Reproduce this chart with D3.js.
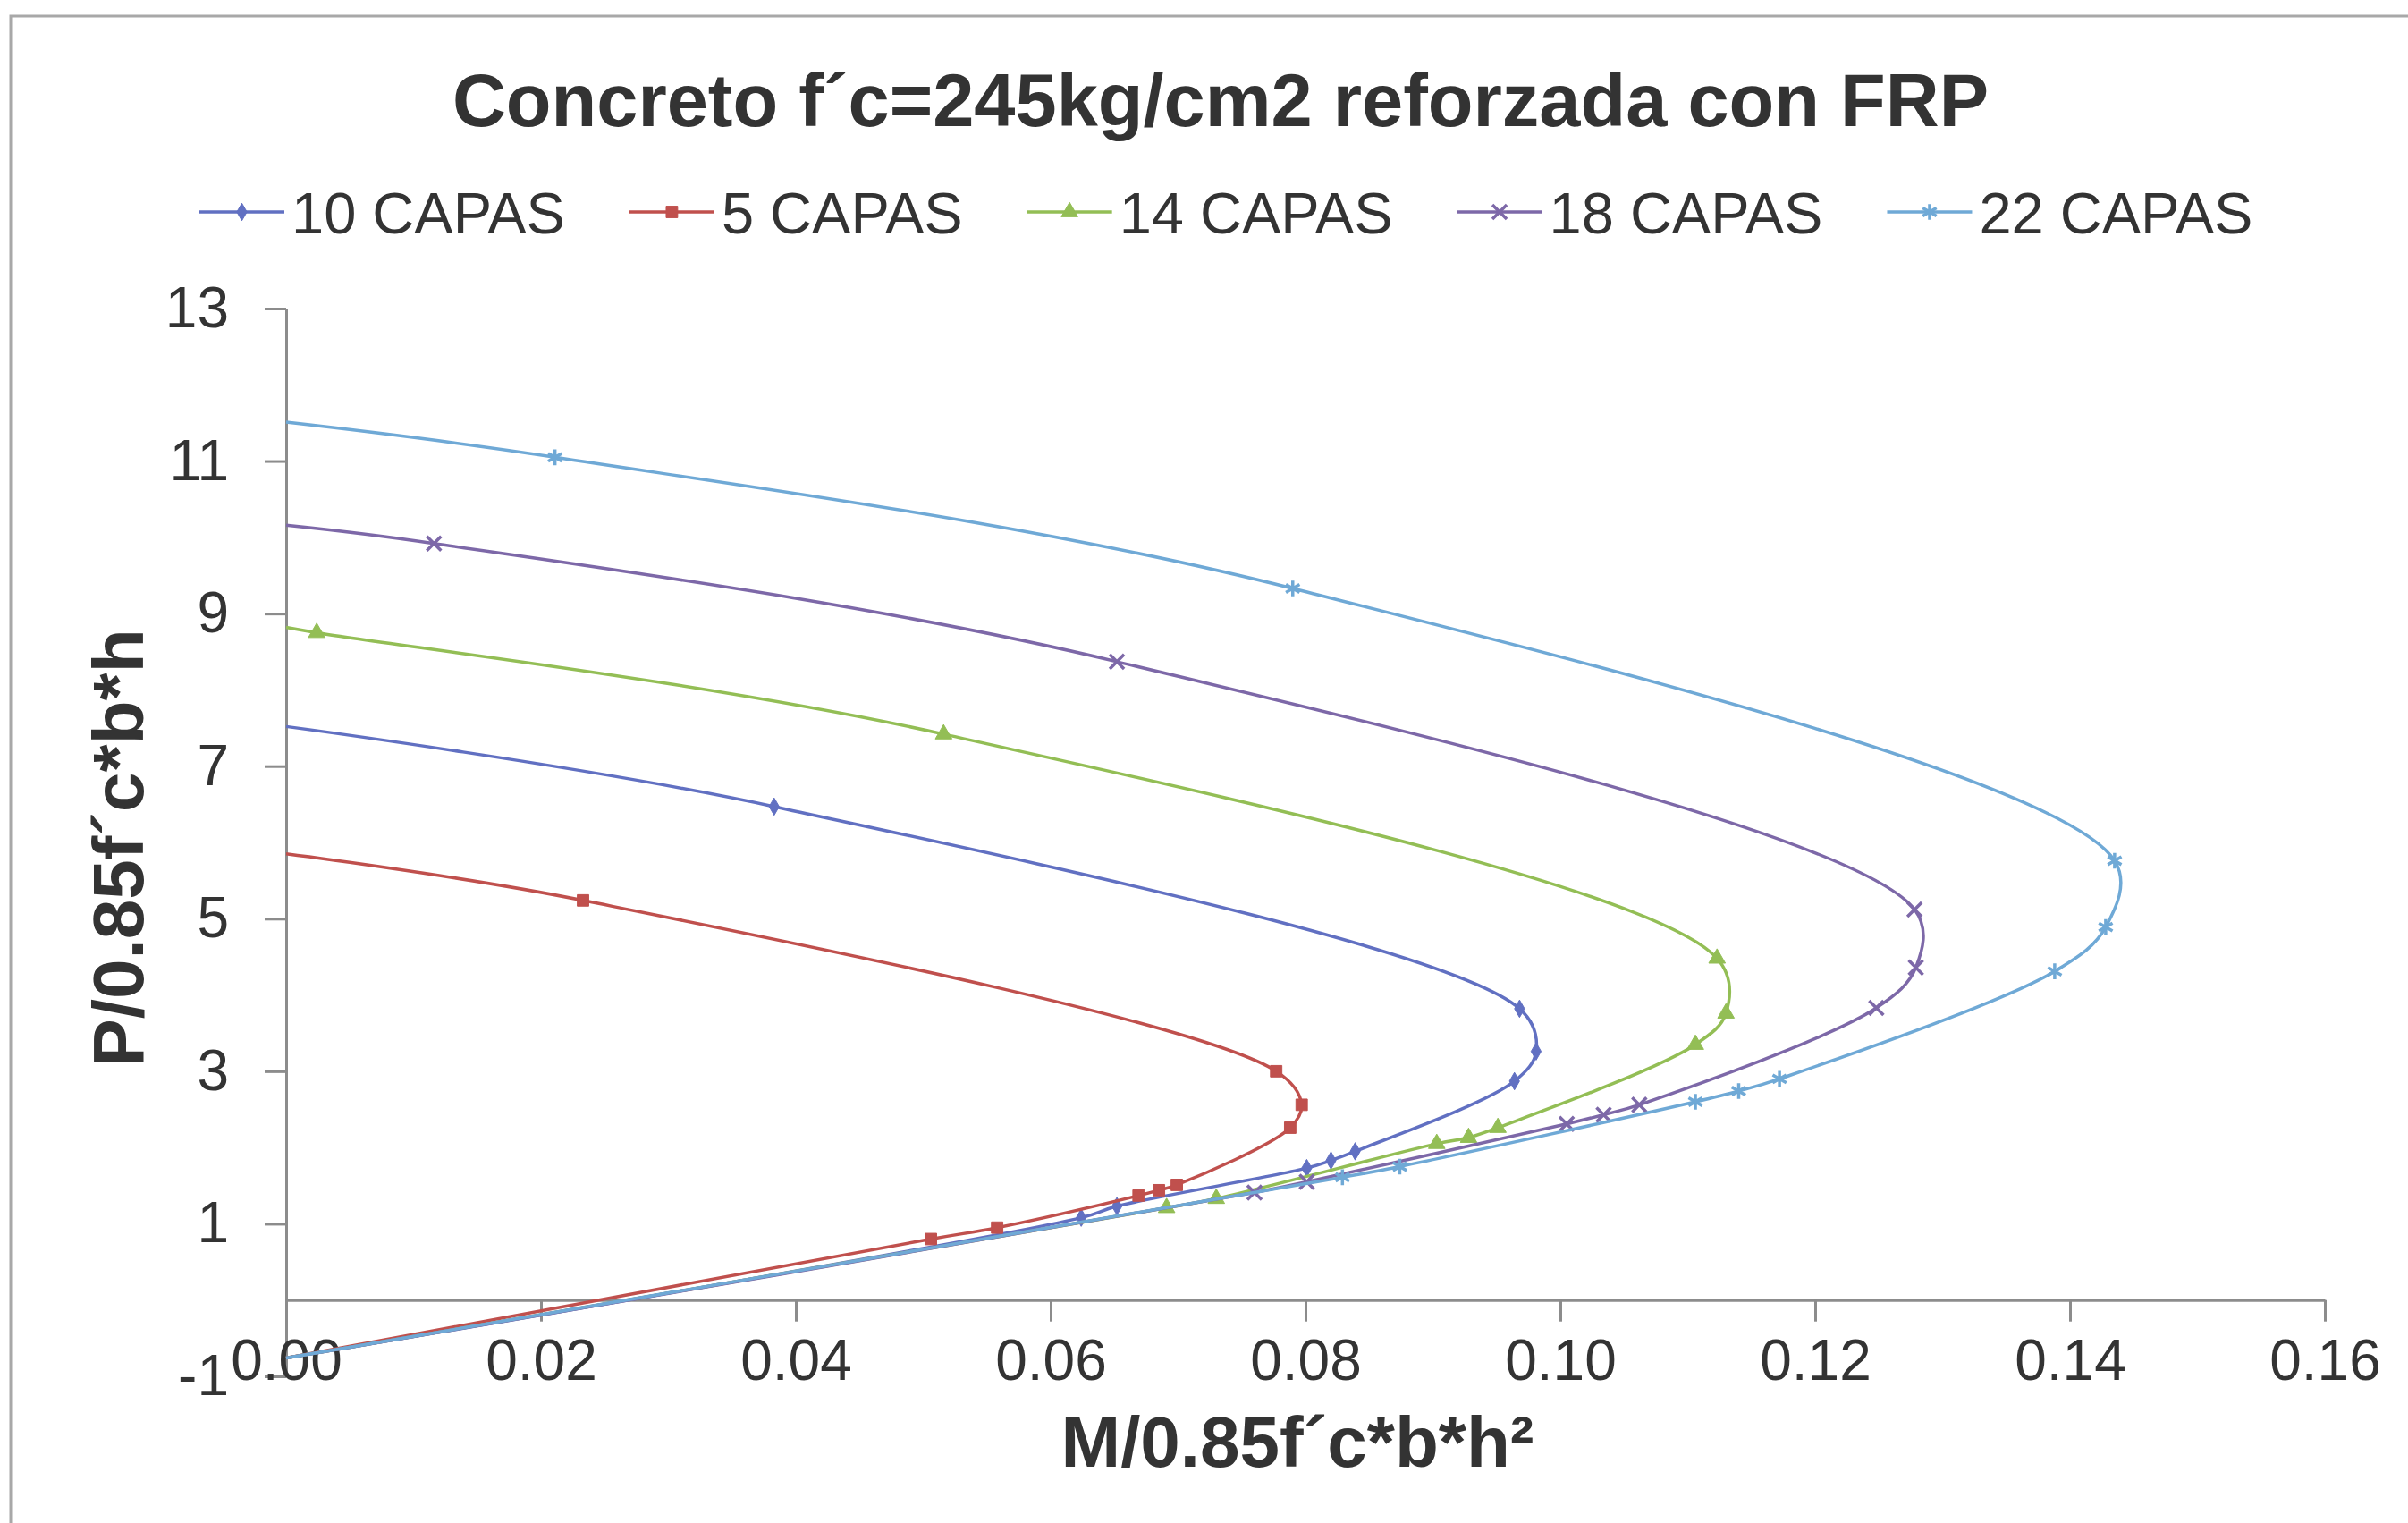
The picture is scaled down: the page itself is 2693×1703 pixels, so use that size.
<!DOCTYPE html>
<meta charset="utf-8">

<head>
    <title>Concreto f´c=245kg/cm2 reforzada con FRP</title>
</head>

<style>
    body {
        margin: 0;
        background: #ffffff;
    }

    text {
        font-family: 'Liberation Sans', Arial, sans-serif;
        fill: #333333;
    }

    .title {
        font-size: 83px;
        font-weight: bold;
        text-anchor: middle;
    }

    .legend_text {
        font-size: 65px;
    }

    .axis text {
        font-size: 64px;
        fill: #333333;
    }

    .axis path,
    .axis line {
        stroke: #8c8c8c;
        stroke-width: 3;
    }

    .label {
        font-size: 80px;
        font-weight: bold;
        text-anchor: middle;
    }

    .serie {
        fill: none;
        stroke-width: 3.5;
    }
</style>

<body>
    <svg id="chart" width="2693" height="1703"></svg>

    <script src="https://d3js.org/d3.v7.min.js"></script>
    <script>
        // values: [M/0.85f'c*b*h^2, P/0.85f'c*b*h]
        const capas10 = [[0, 7.52], [0.0383, 6.47], [0.0968, 3.82], [0.0981, 3.26], [0.0964, 2.87],
            [0.0839, 1.95], [0.0820, 1.83], [0.0801, 1.73], [0.0652, 1.23], [0.0624, 1.08], [0, -0.76]];
        const capas5 = [[0, 5.85], [0.0233, 5.24], [0.0777, 3.00], [0.0797, 2.56], [0.0788, 2.26],
            [0.0699, 1.51], [0.0685, 1.44], [0.0669, 1.37], [0.0558, 0.95], [0.0506, 0.80], [0, -0.76]];
        const capas14 = [[0, 8.82], [0.0024, 8.75], [0.0516, 7.42], [0.1123, 4.48], [0.1130, 3.76], [0.1106, 3.35],
            [0.0951, 2.26], [0.0928, 2.13], [0.0903, 2.05], [0.0730, 1.33], [0.0691, 1.21], [0, -0.76]];
        const capas18 = [[0, 10.16], [0.0116, 9.92], [0.0652, 8.37], [0.1278, 5.12], [0.1279, 4.36], [0.1248, 3.83],
            [0.1062, 2.56], [0.1034, 2.43], [0.1005, 2.31], [0.0801, 1.55], [0.0760, 1.41], [0, -0.76]];
        const capas22 = [[0, 11.51], [0.0211, 11.05], [0.0790, 9.33], [0.1435, 5.76], [0.1428, 4.89], [0.1388, 4.31],
            [0.1172, 2.90], [0.1140, 2.74], [0.1106, 2.60], [0.0874, 1.75], [0.0829, 1.61], [0, -0.76]];

        const seriesNames = ["10 CAPAS", "5 CAPAS", "14 CAPAS", "18 CAPAS", "22 CAPAS"];
        const seriesData = [capas10, capas5, capas14, capas18, capas22];

        const xTicks = [0, 0.02, 0.04, 0.06, 0.08, 0.10, 0.12, 0.14, 0.16];
        const yTicks = [-1, 1, 3, 5, 7, 9, 11, 13];

        const colors = ["#6170c2", "#c0504d", "#93be55", "#7d68a8", "#6fa9d6"];
        const symbols = [
            { type: d3.symbolDiamond, size: 110, filled: true },
            { type: d3.symbolSquare, size: 165, filled: true },
            { type: d3.symbolTriangle, size: 150, filled: true },
            { type: d3.symbolTimes, size: 170, filled: false },
            { type: d3.symbolAsterisk, size: 220, filled: false }
        ];

        const chart = d3.select("#chart");

        // frame of the chart area
        chart.append("path")
            .attr("d", "M12,1703 L12,18 L2693,18")
            .style("fill", "none")
            .style("stroke", "#a8a8a8")
            .style("stroke-width", 3);

        const xScale = d3.scaleLinear().domain([0, 0.16]).range([320, 2600]);
        const yScale = d3.scaleLinear().domain([-1, 13]).range([1539, 345]);

        //title
        chart.append("text")
            .attr("class", "title")
            .attr("x", 1365)
            .attr("y", 141)
            .text("Concreto f´c=245kg/cm2 reforzada con FRP");

        //axis
        const yAxisDom = chart.append("g")
            .attr("class", "axis")
            .attr("transform", "translate(" + xScale(0) + ",0)")
            .call(d3.axisLeft(yScale).tickValues(yTicks).tickSize(24).tickSizeOuter(0).tickPadding(40)
                .tickFormat(d => d));

        const xAxisDom = chart.append("g")
            .attr("class", "axis")
            .attr("transform", "translate(0," + yScale(0) + ")")
            .call(d3.axisBottom(xScale).tickValues(xTicks).tickSize(24).tickSizeOuter(0).tickPadding(20)
                .tickFormat(d3.format(".2f")));

        chart.append("text")
            .attr("class", "label")
            .attr("x", 1451)
            .attr("y", 1640)
            .text("M/0.85f´c*b*h²");

        chart.append("text")
            .attr("class", "label")
            .attr("transform", "translate(160,948)rotate(-90)")
            .text("P/0.85f´c*b*h");

        //Draw series
        const line = d3.line()
            .x(d => xScale(d[0]))
            .y(d => yScale(d[1]))
            .curve(d3.curveCatmullRom.alpha(0.5));

        function drawMarker(g, i, x, y) {
            const s = symbols[i];
            g.append("path")
                .attr("d", d3.symbol().type(s.type).size(s.size)())
                .attr("transform", "translate(" + x + "," + y + ")")
                .style("fill", s.filled ? colors[i] : "none")
                .style("stroke", colors[i])
                .style("stroke-width", s.filled ? 1 : 3.5);
        }

        seriesData.forEach((data, i) => {
            const g = chart.append("g");
            g.append("path")
                .attr("class", "serie")
                .attr("d", line(data))
                .style("stroke", colors[i]);

            // points on the M=0 axis show no marker
            data.filter(d => d[0] > 0).forEach(d => {
                drawMarker(g, i, xScale(d[0]), yScale(d[1]));
            });
        });

        //Legend
        let legendX = 223;
        const legendY = 237;
        seriesNames.forEach((name, i) => {
            const g = chart.append("g");
            g.append("line")
                .attr("x1", legendX)
                .attr("x2", legendX + 95)
                .attr("y1", legendY)
                .attr("y2", legendY)
                .style("stroke", colors[i])
                .style("stroke-width", 3.5);
            drawMarker(g, i, legendX + 47.5, legendY);
            const t = g.append("text")
                .attr("class", "legend_text")
                .attr("x", legendX + 103)
                .attr("y", legendY + 24)
                .text(name);
            legendX = legendX + 103 + t.node().getComputedTextLength() + 72;
        });
    </script>
</body>

</html>
